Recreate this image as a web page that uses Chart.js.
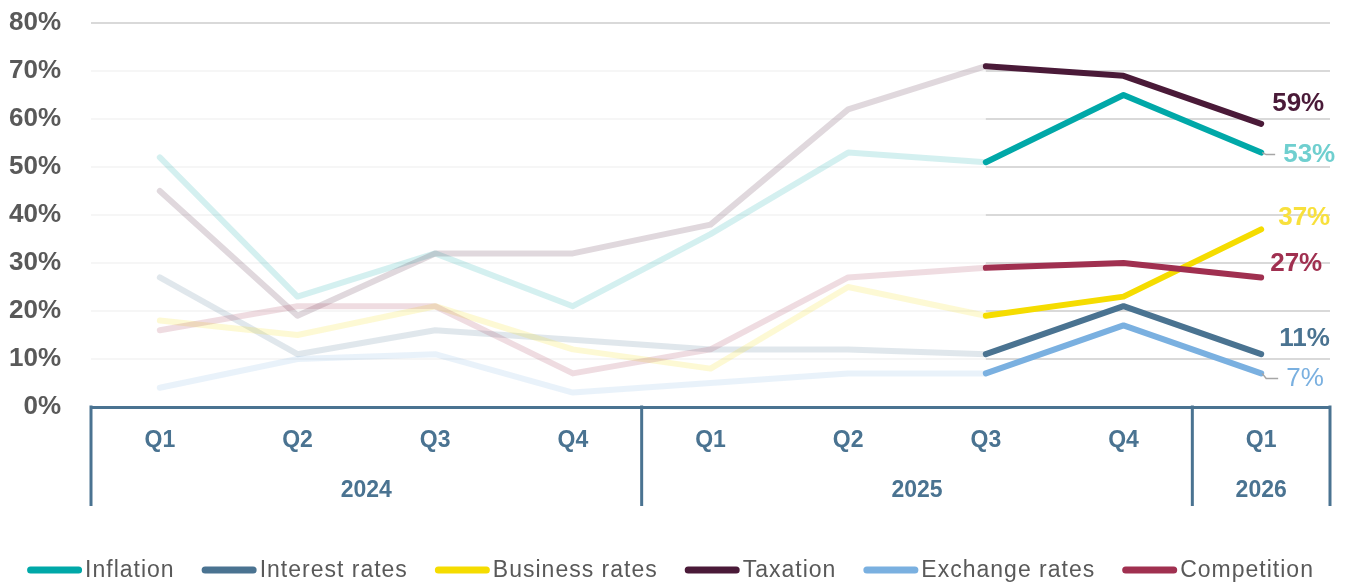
<!DOCTYPE html>
<html>
<head>
<meta charset="utf-8">
<script src="https://cdn.jsdelivr.net/npm/chart.js@4.4.1/dist/chart.umd.min.js"></script>
<style>
  html, body { margin: 0; padding: 0; background: #fff; }
  #wrap { width: 1349px; height: 583px; }
</style>
</head>
<body>
<div id="wrap"><canvas id="chart"></canvas></div>
<script>
// Quarters on the x axis and the years they group under
const quarters = ['Q1', 'Q2', 'Q3', 'Q4', 'Q1', 'Q2', 'Q3', 'Q4', 'Q1'];
const yearLabels = ['2024', '2025', '2026'];
const yearSpans = [4, 4, 1];
const yTicks = [0, 10, 20, 30, 40, 50, 60, 70, 80];

// Share of respondents (%) per concern
const inflation     = [52, 23, 32, 21, 36, 53, 51, 65, 53];
const interestRates = [27, 11, 16, 14, 12, 12, 11, 21, 11];
const businessRates = [18, 15, 21, 12, 8, 25, 19, 23, 37];
const taxation      = [45, 19, 32, 32, 38, 62, 71, 69, 59];
const exchangeRates = [4, 10, 11, 3, 5, 7, 7, 17, 7];
const competition   = [16, 21, 21, 7, 12, 27, 29, 30, 27];

// older quarters are drawn faded, from this index on in full colour
const highlightFrom = 6;

const FONT = "'Liberation Sans', Arial, sans-serif";
const AXIS_BLUE = '#4a7391';
const GREY_TEXT = '#595959';

// label colour + offset from the last point
const series = [
  { label: 'Inflation',      data: inflation,     color: '#00a8a8', text: '#6fcfcf', dx: 22, dy: 2,   bold: true, leader: true },
  { label: 'Interest rates', data: interestRates, color: '#4a7391', text: '#4a7391', dx: 18, dy: -15, bold: true },
  { label: 'Business rates', data: businessRates, color: '#f5dc00', text: '#f8e03c', dx: 17, dy: -12, bold: true },
  { label: 'Taxation',       data: taxation,      color: '#4a1a38', text: '#4a1a38', dx: 11, dy: -20, bold: true },
  { label: 'Exchange rates', data: exchangeRates, color: '#7ab0e0', text: '#7ab0e0', dx: 25, dy: 5,   bold: false, leader: true },
  { label: 'Competition',    data: competition,   color: '#a03050', text: '#a03050', dx: 9,  dy: -14, bold: true }
];

function fade(hex) {
  return hex + '2b'; // ~17% opacity
}

// white veil over the gridlines of the older quarters
const gridVeil = {
  id: 'gridVeil',
  beforeDatasetsDraw(chart) {
    const { ctx, chartArea, scales } = chart;
    const xEnd = scales.x.getPixelForValue(highlightFrom);
    const yTop = scales.y.getPixelForValue(80) + 2;
    ctx.save();
    ctx.fillStyle = 'rgba(255,255,255,0.75)';
    ctx.fillRect(chartArea.left, yTop, xEnd - chartArea.left, chartArea.bottom - 3 - yTop);
    ctx.restore();
  }
};

// value labels at the end of each line
const endLabels = {
  id: 'endLabels',
  afterDatasetsDraw(chart) {
    const ctx = chart.ctx;
    chart.data.datasets.forEach((ds, i) => {
      const s = series[i];
      const meta = chart.getDatasetMeta(i);
      const pt = meta.data[meta.data.length - 1];
      const value = ds.data[ds.data.length - 1];
      ctx.save();
      if (s.leader) {
        ctx.strokeStyle = '#a6a6a6';
        ctx.lineWidth = 1.5;
        ctx.beginPath();
        ctx.moveTo(pt.x + 1, pt.y);
        ctx.lineTo(pt.x + 5, pt.y + s.dy);
        ctx.lineTo(pt.x + s.dx - 8, pt.y + s.dy);
        ctx.stroke();
      }
      ctx.font = (s.bold ? 'bold ' : '') + '26px ' + FONT;
      ctx.fillStyle = s.text;
      ctx.textAlign = 'left';
      ctx.textBaseline = 'middle';
      ctx.fillText(value + '%', pt.x + s.dx, pt.y + s.dy);
      ctx.restore();
    });
  }
};

// year grouping under the quarter labels
const yearAxis = {
  id: 'yearAxis',
  afterDraw(chart) {
    const { ctx, chartArea, scales } = chart;
    const x = scales.x;
    const step = x.getPixelForValue(1) - x.getPixelForValue(0);
    const top = chartArea.bottom;
    const bottom = top + 99;
    ctx.save();
    ctx.strokeStyle = AXIS_BLUE;
    ctx.lineWidth = 3;
    ctx.fillStyle = AXIS_BLUE;
    ctx.font = 'bold 23px ' + FONT;
    ctx.textAlign = 'center';
    ctx.textBaseline = 'middle';
    let start = 0;
    const edges = [x.getPixelForValue(0) - step / 2];
    yearLabels.forEach((yr, i) => {
      const end = start + yearSpans[i];
      const left = x.getPixelForValue(start) - step / 2;
      const right = x.getPixelForValue(end - 1) + step / 2;
      edges.push(right);
      ctx.fillText(yr, (left + right) / 2, top + 84);
      start = end;
    });
    edges.forEach(e => {
      ctx.beginPath();
      ctx.moveTo(e, top - 1.5);
      ctx.lineTo(e, bottom);
      ctx.stroke();
    });
    ctx.restore();
  }
};

// legend row along the bottom
const lineLegend = {
  id: 'lineLegend',
  afterDraw(chart) {
    const ctx = chart.ctx;
    const sampleW = 55, sampleGap = 3, itemGap = 27, y = 570;
    ctx.save();
    ctx.font = '23px ' + FONT;
    ctx.letterSpacing = '1px';
    ctx.textBaseline = 'middle';
    ctx.textAlign = 'left';
    const widths = chart.data.datasets.map(ds => sampleW + sampleGap + ctx.measureText(ds.label).width);
    const total = widths.reduce((a, b) => a + b, 0) + itemGap * (widths.length - 1);
    let xPos = (chart.width - total) / 2 - 4;
    chart.data.datasets.forEach((ds, i) => {
      ctx.strokeStyle = ds.borderColor;
      ctx.lineWidth = 7;
      ctx.lineCap = 'round';
      ctx.beginPath();
      ctx.moveTo(xPos + 3.5, y);
      ctx.lineTo(xPos + sampleW - 3.5, y);
      ctx.stroke();
      ctx.fillStyle = GREY_TEXT;
      ctx.fillText(ds.label, xPos + sampleW + sampleGap, y + 1);
      xPos += widths[i] + itemGap;
    });
    ctx.restore();
  }
};

const datasets = series.map((s, i) => ({
  label: s.label,
  data: s.data,
  borderColor: s.color,
  backgroundColor: s.color,
  borderWidth: 6,
  borderCapStyle: 'round',
  borderJoinStyle: 'round',
  pointRadius: 0,
  pointHoverRadius: 0,
  tension: 0,
  order: series.length - i,
  segment: {
    borderColor: ctx => ctx.p0DataIndex < highlightFrom ? fade(s.color) : s.color
  }
}));

new Chart(document.getElementById('chart'), {
  type: 'line',
  data: { labels: quarters, datasets: datasets },
  options: {
    responsive: true,
    maintainAspectRatio: false,
    animation: false,
    layout: { padding: { top: 23, right: 19, left: 0, bottom: 77 } },
    plugins: {
      legend: { display: false },
      tooltip: { enabled: false }
    },
    scales: {
      x: {
        offset: true,
        grid: { display: false, drawTicks: false },
        border: { display: true, color: AXIS_BLUE, width: 3 },
        ticks: {
          color: AXIS_BLUE,
          font: { family: FONT, size: 23, weight: 'bold' },
          padding: 20,
          maxRotation: 0,
          autoSkip: false
        },
        afterFit: scale => { scale.height = 99; }
      },
      y: {
        min: 0,
        max: 80,
        afterBuildTicks: scale => { scale.ticks = yTicks.map(v => ({ value: v })); },
        grid: {
          drawTicks: false,
          lineWidth: 2,
          color: ctx => ctx.tick && ctx.tick.value === 0 ? 'rgba(0,0,0,0)' : '#d9d9d9'
        },
        border: { display: false },
        ticks: {
          color: GREY_TEXT,
          font: { family: FONT, size: 26, weight: 'bold' },
          padding: 30,
          callback: v => v + '%'
        },
        afterFit: scale => {
          scale.width = 91;
          scale.paddingTop = 0;
          scale.paddingBottom = 0;
        }
      }
    }
  },
  plugins: [gridVeil, endLabels, yearAxis, lineLegend]
});
</script>
</body>
</html>
